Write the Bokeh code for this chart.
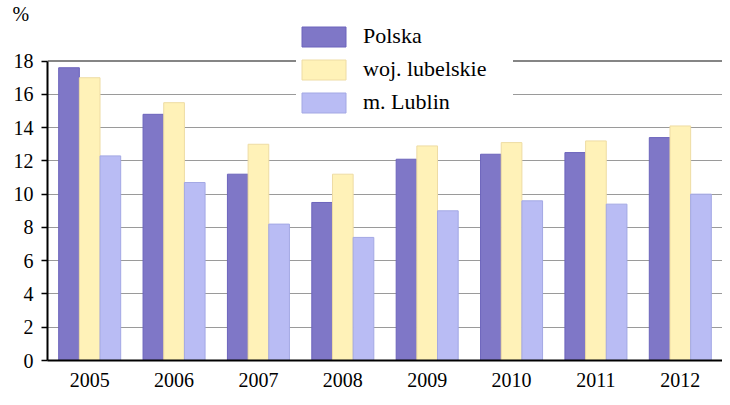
from bokeh.plotting import figure
from bokeh.models import ColumnDataSource, Range1d, FactorRange, Span, FixedTicker, Legend, Title
from bokeh.transform import dodge
from bokeh.embed import file_html
from bokeh.resources import INLINE

years = ["2005", "2006", "2007", "2008", "2009", "2010", "2011", "2012"]
polska = [17.6, 14.8, 11.2, 9.5, 12.1, 12.4, 12.5, 13.4]
lubelskie = [17.0, 15.5, 13.0, 11.2, 12.9, 13.1, 13.2, 14.1]
lublin = [12.3, 10.7, 8.2, 7.4, 9.0, 9.6, 9.4, 10.0]
series_names = ["Polska", "woj. lubelskie", "m. Lublin"]
y_ticks = [0, 2, 4, 6, 8, 10, 12, 14, 16, 18]
y_axis_max = 18
y_view_top = 20.2  # headroom above the axis for the legend

FONT = "Liberation Serif"

src = ColumnDataSource(dict(years=years, polska=polska, lubelskie=lubelskie, lublin=lublin))

title = Title(text="%", text_font=FONT, text_font_size="20px", text_font_style="normal",
              text_color="black", align="left", offset=-35, standoff=0)

p = figure(x_range=FactorRange(*years, range_padding=0), y_range=Range1d(0, y_view_top),
           width=722, height=389, output_backend="svg", toolbar_location=None,
           min_border_left=47, min_border_right=0, min_border_top=22, min_border_bottom=29)
p.title = title
p.outline_line_color = None
p.background_fill_color = "white"

bw = 0.245
fills = ["#7F77C7", "#FFF2B8", "#B9BCF4"]
lines = ["#6C64BC", "#EEDCA4", "#A3A8E4"]
cols = ["polska", "lubelskie", "lublin"]
offs = [-bw, 0.0, bw]
rs = []
for c, o, f, l in zip(cols, offs, fills, lines):
    r = p.vbar(x=dodge("years", o, range=p.x_range), top=c, bottom=0, width=bw, source=src,
               fill_color=f, line_color=l, line_width=1)
    rs.append(r)

legend = Legend(items=[(n, [r]) for n, r in zip(series_names, rs)])
legend.label_text_font = FONT
legend.label_text_font_size = "22px"
legend.label_text_color = "black"
legend.glyph_width = 55
legend.glyph_height = 25
legend.label_height = 20
legend.label_width = 150
legend.label_standoff = 12
legend.spacing = 7
legend.padding = 10
legend.margin = 0
legend.border_line_color = None
legend.background_fill_color = "white"
legend.background_fill_alpha = 1
legend.location = (249, 245)
p.add_layout(legend, "center")

# grid
p.xgrid.grid_line_color = None
p.ygrid.grid_line_color = "#9a9a9a"
p.ygrid.grid_line_width = 1
p.yaxis.ticker = FixedTicker(ticks=y_ticks)
p.yaxis.bounds = (0, y_axis_max)
top_line = Span(location=y_axis_max, dimension="width", line_color="#858585", line_width=2, level="underlay")
p.add_layout(top_line)

# axes
for ax in (p.xaxis[0], p.yaxis[0]):
    ax.axis_line_color = "black"
    ax.axis_line_width = 2
    ax.major_label_text_font = FONT
    ax.major_label_text_font_size = "20px"
    ax.major_label_text_color = "black"
    ax.minor_tick_line_color = None
p.yaxis.major_tick_line_color = "black"
p.yaxis.major_tick_line_width = 1.5
p.yaxis.major_tick_out = 6
p.yaxis.major_tick_in = 0
p.yaxis.major_label_standoff = 8
p.xaxis.major_tick_line_color = None
p.xaxis.major_label_standoff = 6

open("out.html", "w").write(file_html(p, INLINE))
